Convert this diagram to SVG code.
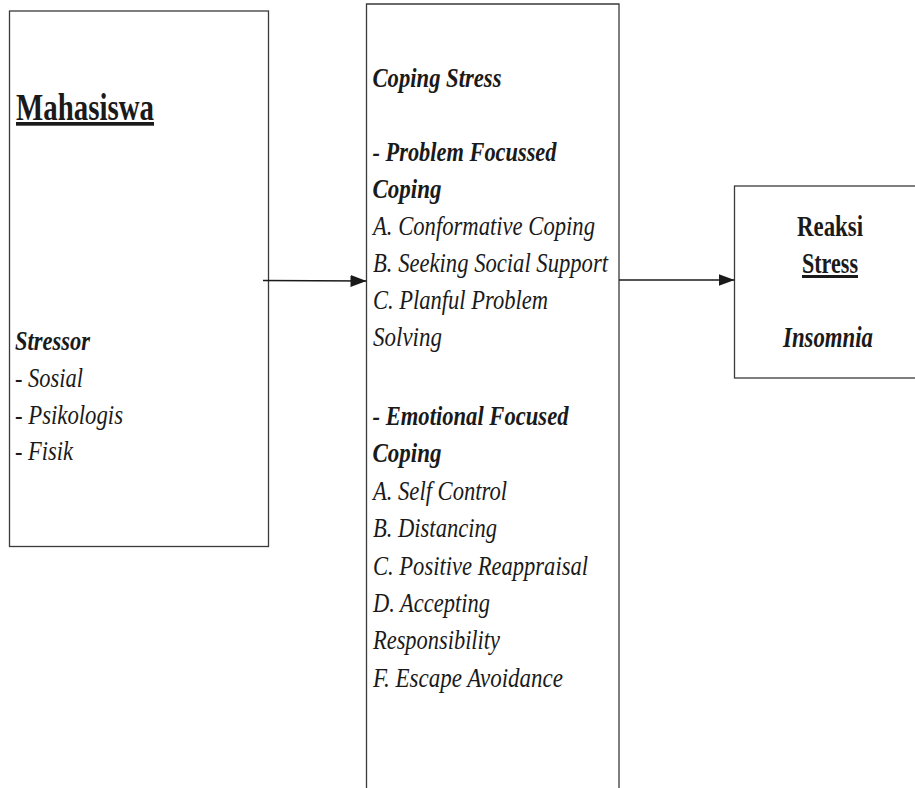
<svg xmlns="http://www.w3.org/2000/svg" width="915" height="788" viewBox="0 0 915 788">
<defs>
<marker id="arrow" markerWidth="16" markerHeight="12" refX="16" refY="6" orient="auto" markerUnits="userSpaceOnUse">
<path d="M0,0 L16,6 L0,12 z" fill="#1a1a1a"/>
</marker>
<style>
.box{fill:#fff;stroke:#3a3a3a;stroke-width:1.3}
.t{font-family:"Liberation Serif","Times New Roman",serif;fill:#1a1a1a}
.b{font-weight:bold}
.i{font-style:italic}
.u{text-decoration:underline}
.conn{stroke:#1a1a1a;stroke-width:1.3;fill:none;marker-end:url(#arrow)}
</style>
</defs>
<rect width="915" height="788" fill="#fff"/>
<g id="node-mahasiswa">
<rect class="box" x="9.5" y="11" width="259" height="535.5"/>
<text class="t b u" x="16" y="120" font-size="37" textLength="138" lengthAdjust="spacingAndGlyphs">Mahasiswa</text>
<text class="t b i" x="15" y="350" font-size="28" textLength="75" lengthAdjust="spacingAndGlyphs">Stressor</text>
<text class="t i" x="15" y="387" font-size="28" textLength="68" lengthAdjust="spacingAndGlyphs">- Sosial</text>
<text class="t i" x="15" y="423.5" font-size="28" textLength="108" lengthAdjust="spacingAndGlyphs">- Psikologis</text>
<text class="t i" x="15" y="460" font-size="28" textLength="58" lengthAdjust="spacingAndGlyphs">- Fisik</text>
</g>
<g id="node-coping">
<path class="box" d="M366.5,800 L366.5,4 L619,4 L619,800"/>
<text class="t b i" x="372.5" y="87" font-size="28" textLength="129" lengthAdjust="spacingAndGlyphs">Coping Stress</text>
<text class="t b i" x="372.5" y="161" font-size="28" textLength="184" lengthAdjust="spacingAndGlyphs">- Problem Focussed</text>
<text class="t b i" x="372.5" y="198" font-size="28" textLength="69" lengthAdjust="spacingAndGlyphs">Coping</text>
<text class="t i" x="373" y="235" font-size="28" textLength="222" lengthAdjust="spacingAndGlyphs">A. Conformative Coping</text>
<text class="t i" x="373" y="272" font-size="28" textLength="235" lengthAdjust="spacingAndGlyphs">B. Seeking Social Support</text>
<text class="t i" x="373" y="309" font-size="28" textLength="175" lengthAdjust="spacingAndGlyphs">C. Planful Problem</text>
<text class="t i" x="373" y="346" font-size="28" textLength="69" lengthAdjust="spacingAndGlyphs">Solving</text>
<text class="t b i" x="372.5" y="425" font-size="28" textLength="196" lengthAdjust="spacingAndGlyphs">- Emotional Focused</text>
<text class="t b i" x="372.5" y="462" font-size="28" textLength="69" lengthAdjust="spacingAndGlyphs">Coping</text>
<text class="t i" x="373" y="500" font-size="28" textLength="134" lengthAdjust="spacingAndGlyphs">A. Self Control</text>
<text class="t i" x="373" y="537" font-size="28" textLength="124" lengthAdjust="spacingAndGlyphs">B. Distancing</text>
<text class="t i" x="373" y="575" font-size="28" textLength="215" lengthAdjust="spacingAndGlyphs">C. Positive Reappraisal</text>
<text class="t i" x="373" y="612" font-size="28" textLength="117" lengthAdjust="spacingAndGlyphs">D. Accepting</text>
<text class="t i" x="373" y="649" font-size="28" textLength="127" lengthAdjust="spacingAndGlyphs">Responsibility</text>
<text class="t i" x="373" y="687" font-size="28" textLength="190" lengthAdjust="spacingAndGlyphs">F. Escape Avoidance</text>
</g>
<g id="node-reaksi">
<rect class="box" x="734.5" y="186" width="200" height="192"/>
<text class="t b" x="797" y="235.5" font-size="30" textLength="66" lengthAdjust="spacingAndGlyphs">Reaksi</text>
<text class="t b u" x="802" y="273" font-size="30" textLength="56" lengthAdjust="spacingAndGlyphs">Stress</text>
<text class="t b i" x="783" y="347" font-size="30" textLength="90" lengthAdjust="spacingAndGlyphs">Insomnia</text>
</g>
<g id="connectors">
<line class="conn" x1="263" y1="280.5" x2="366.5" y2="281"/>
<line class="conn" x1="619" y1="280" x2="734.5" y2="280"/>
</g>
</svg>
